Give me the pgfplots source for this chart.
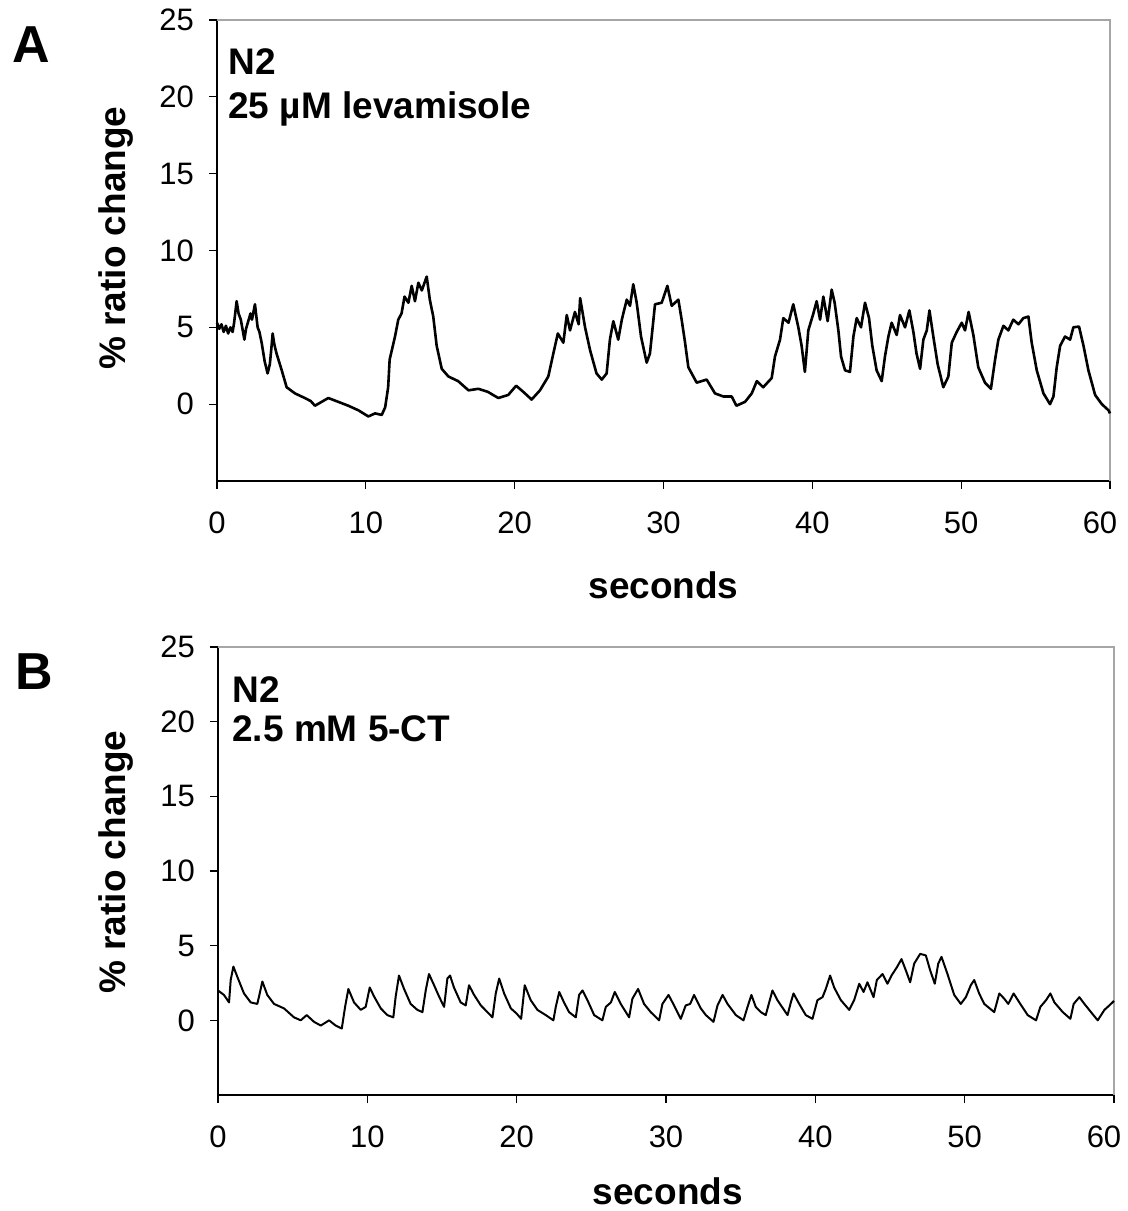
\documentclass[border=0pt]{standalone}
\usepackage{fontspec}
\setmainfont{Liberation Sans}
\usepackage{pgfplots}
\pgfplotsset{compat=1.18}
\pgfplotsset{
  panel/.style={
    scale only axis,
    xmin=0, xmax=60, ymin=-5, ymax=25,
    xtick={0,10,...,50}, ytick={0,5,...,25},
    extra x ticks={60},
    extra x tick style={xticklabel style={xshift=-5pt}},
    axis x line=bottom, axis y line=left,
    axis line style={-, black, line width=0.6pt},
    tick align=outside, major tick length=4pt,
    tick style={black, line width=0.6pt},
    tick label style={font=\fontsize{15.5}{18}\selectfont},
    /pgf/number format/assume math mode=true,
    xticklabel style={yshift=-8pt},
    yticklabel style={xshift=-4pt},
    label style={font=\bfseries\fontsize{18.5}{22}\selectfont},
    xlabel={seconds},
    ylabel={\% ratio change},
    clip=false,
  },
  trace/.style={black, line width=1.3pt, line join=round, mark=none},
}
\begin{document}
\begin{tikzpicture}
\useasboundingbox (0,0) rectangle (564pt,605.5pt);

% Panel A
\begin{axis}[panel,
  at={(108.5pt,365pt)}, anchor=south west,
  width=446.5pt, height=230.5pt,
  xlabel style={at={(axis description cs:0.5,-0.254)}, anchor=base},
  ylabel style={at={(axis description cs:-0.113,0.527)}, anchor=center},
]
\draw[gray!70, line width=0.6pt] (rel axis cs:0,1) -- (rel axis cs:1,1) -- (rel axis cs:1,0);
\addplot[trace] coordinates {
(0,5.3) (0.15,4.9) (0.3,5.2) (0.45,4.7) (0.6,5.1) (0.75,4.6) (0.9,5.0) (1.05,4.7) (1.15,5.3)
(1.32,6.7) (1.45,5.9) (1.6,5.5) (1.84,4.2) (1.95,4.9) (2.1,5.4) (2.25,5.9) (2.35,5.5) (2.55,6.5)
(2.73,5.0) (2.85,4.7) (3.0,4.0) (3.2,2.8) (3.4,2.0) (3.55,2.6) (3.65,3.6) (3.74,4.6) (3.85,3.9)
(4.0,3.3) (4.35,2.2) (4.68,1.1) (5.24,0.7) (5.9,0.4) (6.3,0.2) (6.58,-0.1) (7.03,0.15) (7.48,0.4)
(8.15,0.15) (8.82,-0.1) (9.5,-0.4) (10.17,-0.8) (10.62,-0.6) (11.07,-0.7) (11.3,-0.2) (11.5,1.1)
(11.6,2.9) (11.96,4.4) (12.18,5.5) (12.4,5.9) (12.6,7.0) (12.86,6.6) (13.08,7.7) (13.3,6.7)
(13.53,7.9) (13.76,7.4) (14.09,8.3) (14.3,6.8) (14.53,5.7) (14.76,3.8) (15.1,2.3) (15.55,1.8)
(16.2,1.5) (16.9,0.9) (17.56,1.0) (18.2,0.8) (18.9,0.4) (19.57,0.6) (20.1,1.2) (20.58,0.8)
(21.14,0.3) (21.7,0.9) (22.26,1.8) (22.6,3.3) (22.9,4.6) (23.27,4.0) (23.5,5.8) (23.72,4.8)
(24.05,6.0) (24.3,5.2) (24.4,6.9) (24.73,5.0) (25.07,3.5) (25.5,2.0) (25.85,1.6) (26.18,2.0)
(26.4,4.2) (26.63,5.4) (26.96,4.2) (27.2,5.5) (27.53,6.8) (27.75,6.4) (27.97,7.8) (28.2,6.6)
(28.49,4.4) (28.87,2.7) (29.09,3.3) (29.25,4.8) (29.43,6.5) (29.88,6.6) (30.26,7.7) (30.55,6.4)
(31.0,6.8) (31.22,5.5) (31.45,4.0) (31.67,2.4) (32.23,1.4) (32.9,1.6) (33.46,0.7) (34.02,0.5)
(34.58,0.5) (34.9,-0.1) (35.48,0.15) (35.93,0.7) (36.27,1.5) (36.7,1.1) (37.27,1.7) (37.49,3.1)
(37.83,4.2) (38.05,5.6) (38.4,5.3) (38.72,6.5) (39.06,5.0) (39.28,3.8) (39.5,2.1) (39.73,4.8)
(40.07,5.9) (40.29,6.7) (40.52,5.5) (40.74,7.0) (41.03,5.4) (41.3,7.45) (41.5,6.6) (41.75,4.8)
(41.93,3.1) (42.2,2.2) (42.53,2.1) (42.76,4.4) (42.98,5.6) (43.27,5.0) (43.54,6.6) (43.81,5.6)
(44.03,3.8) (44.32,2.2) (44.66,1.5) (44.88,3.1) (45.11,4.4) (45.33,5.3) (45.67,4.5) (45.89,5.8)
(46.23,5.0) (46.52,6.1) (46.79,4.7) (47.0,3.3) (47.24,2.3) (47.46,4.2) (47.69,4.8) (47.87,6.1)
(48.13,4.4) (48.42,2.6) (48.8,1.1) (49.14,1.8) (49.37,4.0) (49.7,4.7) (50.04,5.3) (50.26,4.8)
(50.5,6.0) (50.82,4.5) (51.15,2.4) (51.6,1.4) (52.0,1.0) (52.28,2.9) (52.5,4.2) (52.84,5.1)
(53.17,4.8) (53.5,5.5) (53.85,5.2) (54.18,5.6) (54.52,5.7) (54.74,4.0) (55.08,2.2) (55.53,0.7)
(55.97,0.0) (56.2,0.5) (56.42,2.4) (56.65,3.8) (56.98,4.4) (57.32,4.2) (57.54,5.0) (57.92,5.05)
(58.22,3.8) (58.55,2.2) (59.0,0.6) (59.45,0.0) (59.9,-0.4) (60.0,-0.6)
};
\node[anchor=base west, inner sep=0pt, font=\bfseries\fontsize{18.5}{22}\selectfont]
  at (axis description cs:0.0123,0.881) {N2};
\node[anchor=base west, inner sep=0pt, font=\bfseries\fontsize{18.5}{22}\selectfont]
  at (axis description cs:0.0123,0.787) {25 µM levamisole};
\end{axis}

% Panel B
\begin{axis}[panel,
  at={(109pt,58pt)}, anchor=south west,
  width=448pt, height=224pt,
  xlabel style={at={(axis description cs:0.502,-0.2455)}, anchor=base},
  ylabel style={at={(axis description cs:-0.114,0.52)}, anchor=center},
]
\draw[gray!70, line width=0.6pt] (rel axis cs:0,1) -- (rel axis cs:1,1) -- (rel axis cs:1,0);
\addplot[trace, line width=1.0pt] coordinates {
(0,2.0) (0.4,1.7) (0.74,1.2) (0.85,2.7) (1.03,3.6) (1.3,2.9) (1.74,1.8) (2.19,1.2) (2.63,1.1)
(2.75,1.6) (2.97,2.6) (3.3,1.7) (3.75,1.1) (4.42,0.8) (5.09,0.2) (5.54,0.0) (5.94,0.35) (6.43,-0.1)
(6.88,-0.35) (7.44,0.0) (7.88,-0.35) (8.29,-0.55) (8.51,0.9) (8.73,2.1) (9.11,1.2) (9.56,0.7)
(9.89,0.9) (10.16,2.2) (10.45,1.6) (10.9,0.8) (11.34,0.35) (11.74,0.2) (11.9,1.6) (12.12,3.0)
(12.46,2.1) (12.9,1.1) (13.35,0.7) (13.69,0.55) (13.91,2.0) (14.13,3.1) (14.47,2.35) (14.8,1.6)
(15.14,0.9) (15.36,2.8) (15.54,3.0) (15.8,2.2) (16.25,1.2) (16.59,1.0) (16.81,2.35) (17.15,1.7)
(17.6,1.0) (18.04,0.55) (18.38,0.2) (18.6,1.8) (18.83,2.8) (19.16,1.8) (19.61,0.8) (20.0,0.45)
(20.3,0.1) (20.54,2.35) (20.94,1.35) (21.39,0.7) (21.95,0.35) (22.46,0.0) (22.62,0.9) (22.85,1.9)
(23.17,1.2) (23.51,0.55) (23.96,0.2) (24.18,1.7) (24.41,2.0) (24.74,1.35) (25.19,0.35) (25.74,0.0)
(25.97,0.9) (26.31,1.2) (26.57,1.9) (26.97,1.1) (27.53,0.2) (27.75,1.45) (28.13,2.1) (28.53,1.1)
(28.98,0.55) (29.54,0.0) (29.76,1.1) (30.17,1.7) (30.54,1.0) (30.99,0.1) (31.32,1.0) (31.62,1.1)
(31.88,1.7) (32.33,0.8) (32.67,0.35) (33.18,-0.1) (33.45,1.0) (33.79,1.7) (34.12,1.1) (34.68,0.35)
(35.19,0.0) (35.46,0.9) (35.72,1.7) (36.01,0.9) (36.35,0.55) (36.68,0.35) (36.91,1.2) (37.13,2.0)
(37.46,1.35) (38.14,0.35) (38.36,1.2) (38.54,1.8) (38.92,1.1) (39.36,0.35) (39.81,0.1) (40.14,1.35)
(40.48,1.55) (40.7,2.1) (40.99,3.0) (41.26,2.2) (41.71,1.35) (42.27,0.7) (42.6,1.35) (42.94,2.45)
(43.23,1.9) (43.49,2.55) (43.9,1.55) (44.12,2.7) (44.5,3.1) (44.83,2.45) (45.1,3.0) (45.46,3.55)
(45.77,4.1) (46.06,3.35) (46.35,2.55) (46.62,3.8) (47.02,4.45) (47.4,4.35) (47.69,3.35) (48.0,2.45)
(48.23,3.8) (48.45,4.25) (48.85,3.1) (49.3,1.7) (49.74,1.1) (50.08,1.55) (50.41,2.35) (50.64,2.7)
(50.97,1.8) (51.31,1.1) (51.98,0.55) (52.32,1.8) (52.65,1.45) (52.92,1.1) (53.28,1.8) (53.66,1.2)
(54.22,0.35) (54.78,0.0) (55.07,0.9) (55.45,1.35) (55.74,1.8) (56.01,1.2) (56.57,0.55) (57.08,0.1)
(57.3,1.1) (57.68,1.55) (58.02,1.1) (58.46,0.55) (58.91,0.0) (59.36,0.7) (59.69,1.0) (60.0,1.3)
};
\node[anchor=base west, inner sep=0pt, font=\bfseries\fontsize{18.5}{22}\selectfont]
  at (axis description cs:0.0156,0.877) {N2};
\node[anchor=base west, inner sep=0pt, font=\bfseries\fontsize{18.5}{22}\selectfont]
  at (axis description cs:0.0156,0.788) {2.5 mM 5-CT};
\end{axis}

\node[anchor=base west, inner sep=0pt, font=\bfseries\fontsize{26}{30}\selectfont] at (6pt,574pt) {A};
\node[anchor=base west, inner sep=0pt, font=\bfseries\fontsize{26}{30}\selectfont] at (7.5pt,260.5pt) {B};
\end{tikzpicture}
\end{document}
